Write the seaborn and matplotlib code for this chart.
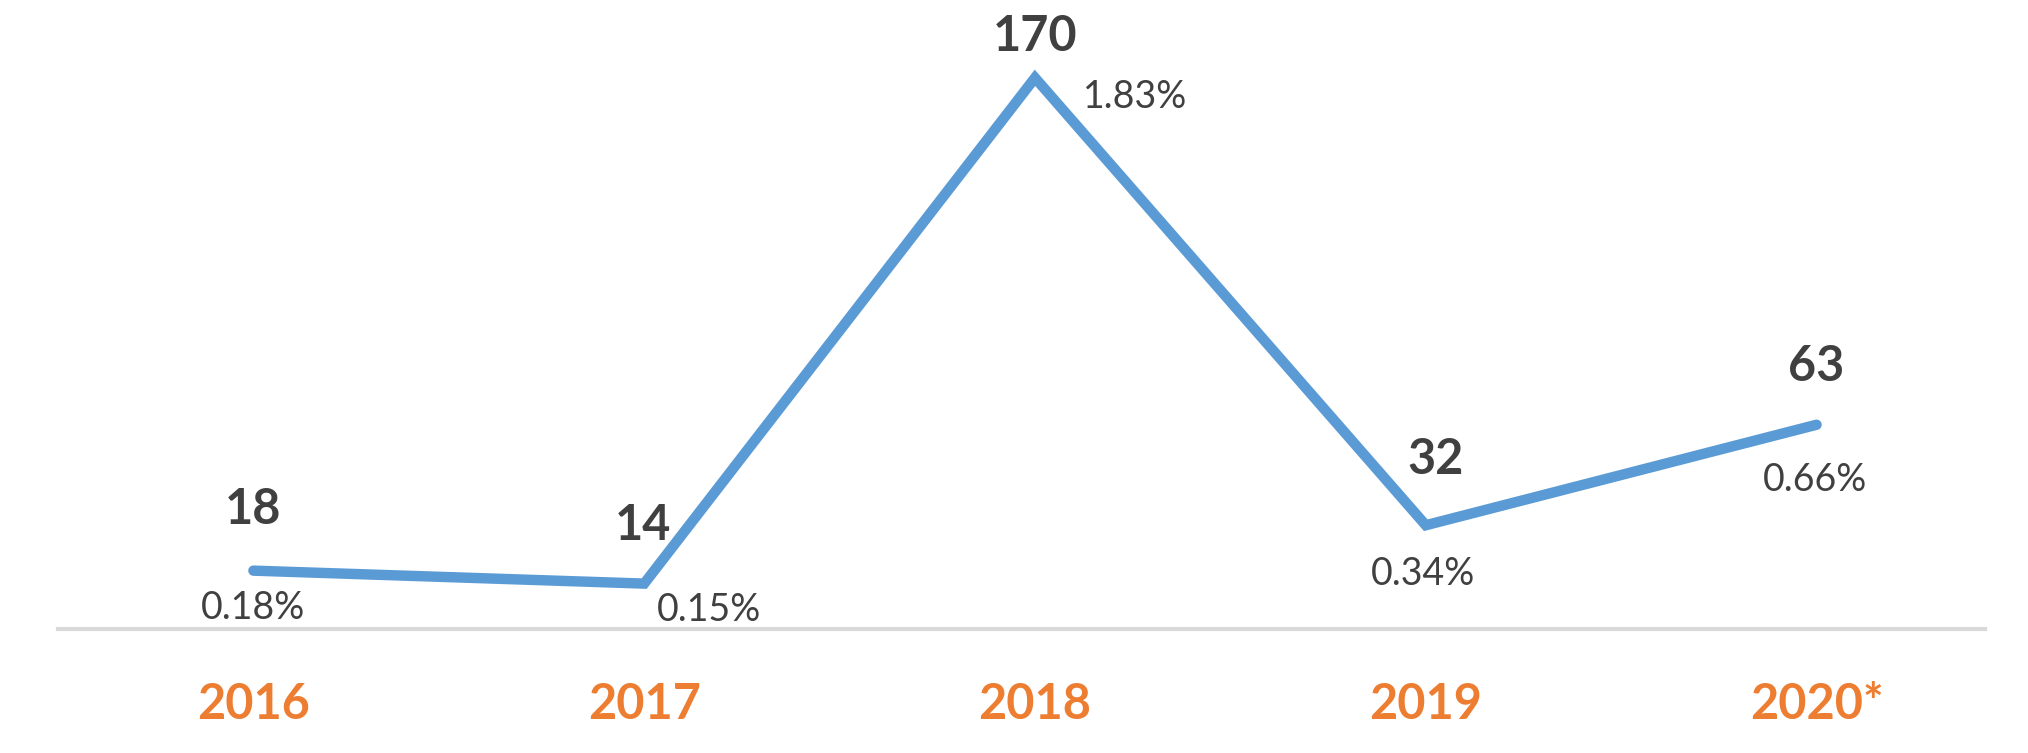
import matplotlib.pyplot as plt
import seaborn as sns
import pandas as pd

years = ["2016", "2017", "2018", "2019", "2020*"]
counts = [18, 14, 170, 32, 63]
shares = ["0.18%", "0.15%", "1.83%", "0.34%", "0.66%"]

# label offsets in points (count above, share below)
count_offsets = [(0, 44), (-1, 42), (0, 30), (7, 47), (0, 42)]
share_offsets = [(0, -27), (47, -19), (72, -14), (-2, -35), (-1, -40)]

df = pd.DataFrame({"year": years, "count": counts})

sns.set_style("white")
plt.rcParams["font.family"] = ["Lato", "DejaVu Sans"]

fig = plt.figure(figsize=(20.28, 7.53), dpi=100)
ax = fig.add_axes([0.0286, 1 - 629 / 753, 0.95, 629 / 753])

sns.lineplot(data=df, x="year", y="count", ax=ax, color="#5B9BD5",
             linewidth=7.5, sort=False, solid_capstyle="round", solid_joinstyle="miter")

for i, (c, s) in enumerate(zip(counts, shares)):
    ax.annotate(str(c), (i, c), xytext=count_offsets[i], textcoords="offset points",
                ha="center", va="center", fontsize=35, fontweight="bold", color="#404040")
    ax.annotate(s, (i, c), xytext=share_offsets[i], textcoords="offset points",
                ha="center", va="center", fontsize=27, color="#404040")

ax.set_xlim(-0.5, 4.43)
ax.set_ylim(0, 194)
ax.set_xlabel("")
ax.set_ylabel("")
ax.set_yticks([])
for side in ["top", "right", "left"]:
    ax.spines[side].set_visible(False)
ax.spines["bottom"].set_color("#D9D9D9")
ax.spines["bottom"].set_linewidth(3)
ax.tick_params(axis="x", length=0, pad=38, labelsize=35, labelcolor="#ED7D31")
for lbl in ax.get_xticklabels():
    lbl.set_fontweight("bold")

fig.savefig("out.png", dpi=100, facecolor="white")
